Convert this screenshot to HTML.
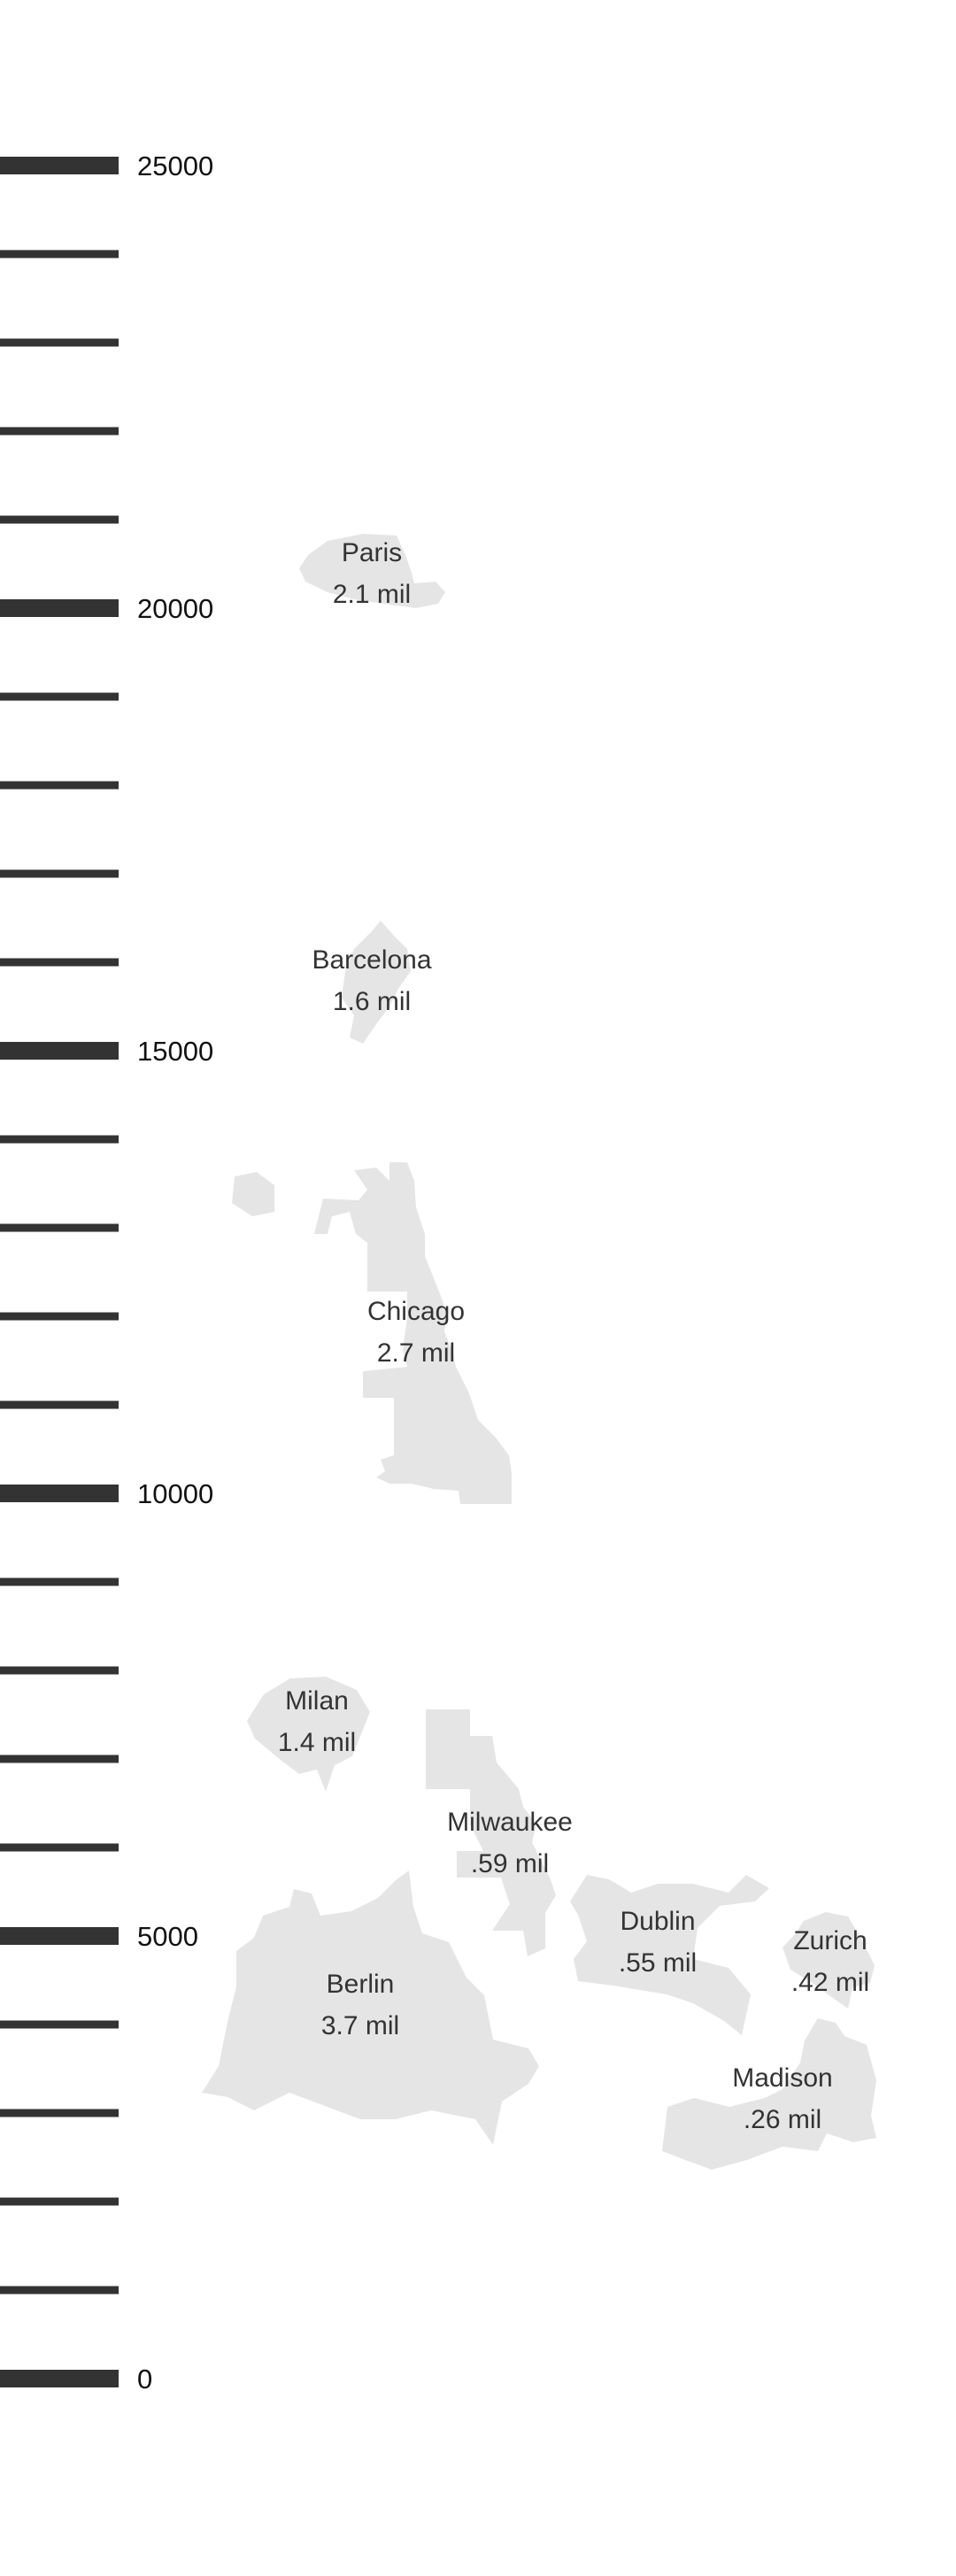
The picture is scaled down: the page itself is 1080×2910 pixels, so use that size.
<!DOCTYPE html>
<html>
<head>
<meta charset="utf-8">
<style>
  html, body { margin: 0; padding: 0; background: #fff; }
  body { width: 1080px; height: 2910px; overflow: hidden; }
  svg { display: block; }
  .tick-label { font-family: "Liberation Sans", sans-serif; font-size: 31px; fill: #111; }
  .city-name, .city-pop { font-family: "Liberation Sans", sans-serif; font-size: 30px; fill: #333; text-anchor: middle; }
</style>
</head>
<body>
<svg id="chart" width="1080" height="2910" viewBox="0 0 1080 2910" xmlns="http://www.w3.org/2000/svg">
  <g id="axis"></g>
  <g id="cities"></g>
</svg>
<script>
// ---- data ----
const tickValues = [0,1000,2000,3000,4000,5000,6000,7000,8000,9000,10000,11000,12000,13000,14000,15000,16000,17000,18000,19000,20000,21000,22000,23000,24000,25000];
const majorTickLabels = ["0","5000","10000","15000","20000","25000"];
const cityNames = ["Paris","Barcelona","Chicago","Milan","Milwaukee","Berlin","Dublin","Zurich","Madison"];
const cityPopulations = ["2.1 mil","1.6 mil","2.7 mil","1.4 mil",".59 mil","3.7 mil",".55 mil",".42 mil",".26 mil"];
const cityDensities = [20400,15800,11830,7430,6060,4230,4940,4720,3170];

// ---- layout (not data) ----
const cityX = [420,420,470,358,576,407,743,938,884];
const Y0 = 2687, PX_PER_UNIT = 0.1;
function yScale(v){ return Y0 - v*PX_PER_UNIT; }

const shapes = {
  Paris: [[-82,-5],[-72,-20],[-50,-36],[-10,-44],[28,-42],[38,-20],[45,0],[48,12],[72,10],[83,22],[75,35],[50,40],[20,36],[-20,30],[-50,22],[-75,10]],
  Barcelona: [[10,-67],[25,-50],[40,-35],[44,-10],[30,10],[20,30],[5,50],[-10,72],[-25,65],[-20,40],[-34,20],[-30,-10],[-20,-35],[0,-55]],
  Chicago: [[-30,-191],[-10,-191],[-2,-170],[0,-140],[10,-110],[10,-85],[20,-60],[28,-40],[35,-20],[32,0],[40,20],[45,40],[60,70],[70,100],[90,120],[105,140],[108,160],[108,195],[50,195],[48,180],[20,178],[-5,172],[-30,172],[-45,165],[-35,158],[-40,145],[-25,140],[-25,100],[-25,75],[-60,75],[-60,45],[-10,40],[-15,20],[-10,-15],[-10,-45],[-55,-45],[-55,-100],[-68,-110],[-75,-135],[-95,-130],[-100,-110],[-115,-110],[-105,-150],[-65,-148],[-55,-160],[-70,-182],[-45,-185],[-30,-170]],
  Milan: [[-60,-30],[-30,-48],[10,-50],[45,-35],[60,-10],[50,15],[40,40],[20,50],[10,80],[0,55],[-20,60],[-40,45],[-70,20],[-79,0]],
  Milwaukee: [[-95,-150],[-45,-150],[-45,-120],[-20,-120],[-15,-90],[10,-60],[15,-40],[30,-20],[25,0],[45,40],[52,60],[40,80],[40,120],[20,129],[15,100],[-20,100],[0,70],[-10,40],[-60,40],[-60,10],[-30,10],[-45,-20],[-45,-60],[-95,-60]],
  Berlin: [[-140,-60],[-120,-75],[-110,-100],[-80,-110],[-75,-130],[-55,-125],[-45,-100],[-10,-105],[20,-120],[40,-140],[55,-151],[60,-110],[70,-80],[100,-70],[120,-30],[140,-10],[150,40],[190,50],[202,70],[190,90],[160,110],[150,159],[130,130],[80,120],[40,130],[0,130],[-40,115],[-80,100],[-120,120],[-150,105],[-179,100],[-160,70],[-150,20],[-140,-20]],
  Dublin: [[-99,-45],[-80,-75],[-55,-70],[-30,-55],[0,-65],[40,-65],[80,-55],[100,-75],[126,-60],[110,-45],[70,-40],[45,-15],[40,20],[80,30],[105,60],[95,106],[75,90],[40,70],[10,60],[-50,50],[-90,45],[-95,20],[-80,0],[-90,-30]],
  Zurich: [[-30,-45],[-5,-55],[20,-50],[35,-25],[50,5],[45,25],[25,30],[20,54],[0,40],[-20,25],[-45,10],[-54,-15],[-40,-30]],
  Madison: [[40,-90],[60,-85],[70,-70],[95,-60],[106,-20],[100,20],[106,45],[80,50],[50,40],[40,60],[0,55],[-40,70],[-80,81],[-110,70],[-136,60],[-130,10],[-100,0],[-60,10],[-20,0],[0,-10],[20,-40],[25,-65]]
};
const chicagoIsland = [[-205,-175],[-180,-180],[-160,-165],[-160,-135],[-185,-130],[-208,-145]];

const NS = "http://www.w3.org/2000/svg";
const axis = document.getElementById('axis');
tickValues.forEach(function(v){
  const major = v % 5000 === 0;
  const h = major ? 20 : 9;
  const r = document.createElementNS(NS,'rect');
  r.setAttribute('x',0); r.setAttribute('width',134);
  r.setAttribute('y', yScale(v)-h/2); r.setAttribute('height',h);
  r.setAttribute('fill','#333');
  
  
  axis.appendChild(r);
  if (major) {
    const t = document.createElementNS(NS,'text');
    t.setAttribute('x',155); t.setAttribute('y', yScale(v)+11);
    t.setAttribute('class','tick-label');
    t.textContent = majorTickLabels[v/5000];
    
    
    axis.appendChild(t);
  }
});

const cities = document.getElementById('cities');
function poly(pts, cx, cy){
  const p = document.createElementNS(NS,'polygon');
  p.setAttribute('points', pts.map(function(q){return (cx+q[0])+','+(cy+q[1]);}).join(' '));
  p.setAttribute('fill','#e5e5e5');
  return p;
}
cityNames.forEach(function(name,i){
  const cx = cityX[i], cy = yScale(cityDensities[i]);
  const g = document.createElementNS(NS,'g');
  
  
  const shp = poly(shapes[name], cx, cy);
  
  
  g.appendChild(shp);
  if (name === 'Chicago') {
    const isl = poly(chicagoIsland, cx, cy);
    
    
    g.appendChild(isl);
  }
  const t1 = document.createElementNS(NS,'text');
  t1.setAttribute('x',cx); t1.setAttribute('y',cy-13);
  t1.setAttribute('class','city-name');
  t1.textContent = name;
  
  
  g.appendChild(t1);
  const t2 = document.createElementNS(NS,'text');
  t2.setAttribute('x',cx); t2.setAttribute('y',cy+34);
  t2.setAttribute('class','city-pop');
  t2.textContent = cityPopulations[i];
  
  
  g.appendChild(t2);
  cities.appendChild(g);
});
</script>
</body>
</html>
